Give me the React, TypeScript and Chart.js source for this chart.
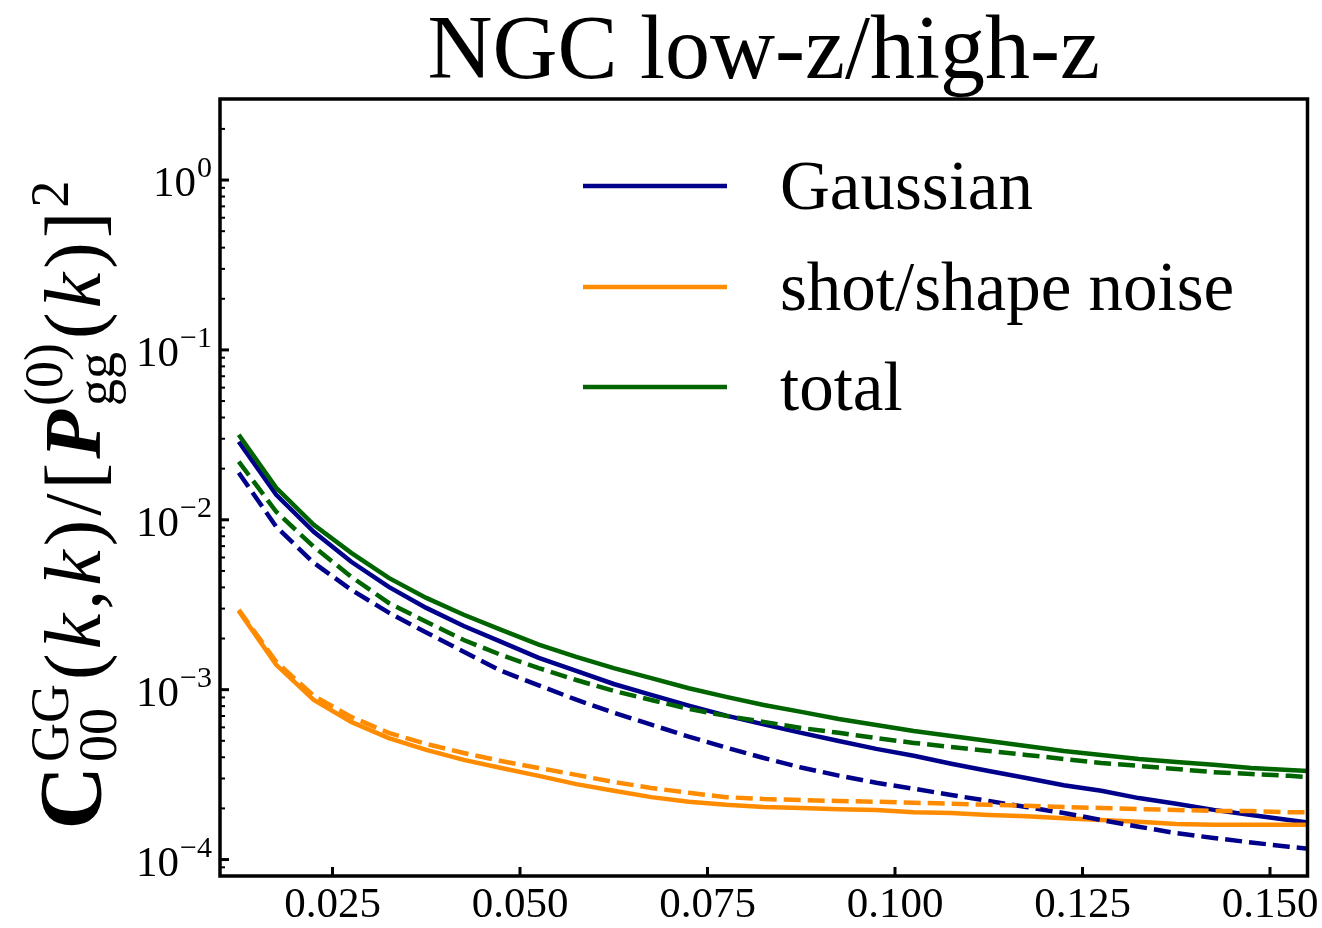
import React, { useEffect, useRef } from "react";
import { Chart, registerables } from "chart.js";

Chart.register(...registerables);

// k values (h/Mpc)
const K = [
  0.0125, 0.0175, 0.0225, 0.0275, 0.0325, 0.0375, 0.0425, 0.0475, 0.0525, 0.0575,
  0.0625, 0.0675, 0.0725, 0.0775, 0.0825, 0.0875, 0.0925, 0.0975, 0.1025, 0.1075,
  0.1125, 0.1175, 0.1225, 0.1275, 0.1325, 0.1375, 0.1425, 0.1475, 0.1525, 0.1575,
];

const gaussianSolid = [
  0.0288, 0.01403, 0.0085, 0.00566, 0.00403, 0.00303, 0.00237, 0.00191, 0.00154, 0.00129,
  0.00108, 0.000931, 0.000805, 0.000703, 0.000625, 0.000557, 0.000499, 0.000448, 0.000408, 0.000366,
  0.000332, 0.000302, 0.000274, 0.000254, 0.00023, 0.000213, 0.000196, 0.000183, 0.000171, 0.00016,
];
const noiseSolid = [
  0.00291, 0.0014, 0.00087, 0.000646, 0.000519, 0.000442, 0.000386, 0.000346, 0.000311, 0.000278,
  0.000254, 0.000233, 0.000219, 0.00021, 0.000204, 0.000201, 0.000198, 0.000196, 0.00019, 0.000188,
  0.000183, 0.00018, 0.000175, 0.000171, 0.000167, 0.000162, 0.00016, 0.00016, 0.00016, 0.00016,
];
const totalSolid = [
  0.0317, 0.01544, 0.00935, 0.00639, 0.00455, 0.00347, 0.00276, 0.00225, 0.00184, 0.00156,
  0.00134, 0.00117, 0.00102, 0.000907, 0.000813, 0.00074, 0.000672, 0.00062, 0.000571, 0.000534,
  0.000499, 0.000466, 0.000436, 0.000413, 0.000391, 0.000375, 0.000361, 0.000346, 0.000337, 0.000327,
];
const gaussianDashed = [
  0.0189, 0.0091, 0.00558, 0.00387, 0.00284, 0.00217, 0.00167, 0.00129, 0.00106, 0.000873,
  0.000732, 0.000622, 0.000529, 0.000456, 0.000396, 0.000348, 0.000312, 0.000283, 0.000261, 0.00024,
  0.000221, 0.000204, 0.000188, 0.000171, 0.000156, 0.000143, 0.000134, 0.000126, 0.000119, 0.000113,
];
const noiseDashed = [
  0.00295, 0.00146, 0.000919, 0.000691, 0.000557, 0.000479, 0.000424, 0.00038, 0.000346, 0.000315,
  0.000286, 0.000264, 0.000247, 0.000233, 0.000227, 0.000224, 0.000221, 0.000219, 0.000216, 0.000213,
  0.00021, 0.000207, 0.000204, 0.000201, 0.000198, 0.000196, 0.000193, 0.000193, 0.00019, 0.00019,
];
const totalDashed = [
  0.022, 0.01115, 0.00694, 0.00462, 0.00324, 0.00251, 0.00196, 0.0016, 0.00134, 0.00114,
  0.000983, 0.00087, 0.00077, 0.000701, 0.000646, 0.000595, 0.000557, 0.000519, 0.000486, 0.00046,
  0.000436, 0.000413, 0.000391, 0.00037, 0.000356, 0.000341, 0.000327, 0.000319, 0.000311, 0.000302,
];

const X_TICKS = [0.025, 0.05, 0.075, 0.1, 0.125, 0.15];
const X_TICK_LABELS = ["0.025", "0.050", "0.075", "0.100", "0.125", "0.150"];
const Y_MAJOR = [1e-4, 1e-3, 1e-2, 1e-1, 1];
const Y_EXPONENTS = ["\u22124", "\u22123", "\u22122", "\u22121", "0"];
const TITLE = "NGC low-z/high-z";
const LEGEND_LABELS = ["Gaussian", "shot/shape noise", "total"];

const BLUE = "#00008B";
const ORANGE = "#FF8C00";
const GREEN = "#006400";
const LEGEND_COLORS = [BLUE, ORANGE, GREEN];

const SERIF = '"Liberation Serif", "DejaVu Serif", serif';

const toPoints = (ys: number[]) => ys.map((y, i) => ({ x: K[i], y }));

export default function App() {
  const ref = useRef<HTMLCanvasElement>(null);

  useEffect(() => {
    document.body.style.margin = "0";
    const canvas = ref.current!;

    const decor = {
      id: "mplDecor",
      afterDraw(chart: any) {
        const ctx: CanvasRenderingContext2D = chart.ctx;
        const a = chart.chartArea;
        const xs = chart.scales.x;
        const ys = chart.scales.y;
        ctx.save();
        ctx.fillStyle = "#000";
        ctx.strokeStyle = "#000";
        ctx.setLineDash([]);

        // x ticks (inward)
        ctx.lineWidth = 3;
        X_TICKS.forEach((v, i) => {
          const px = xs.getPixelForValue(v);
          ctx.beginPath();
          ctx.moveTo(px, a.bottom);
          ctx.lineTo(px, a.bottom - 9);
          ctx.stroke();
          ctx.font = `43px ${SERIF}`;
          ctx.textAlign = "center";
          ctx.textBaseline = "alphabetic";
          ctx.fillText(X_TICK_LABELS[i], px, 917);
        });

        // y major ticks + labels
        Y_MAJOR.forEach((v, i) => {
          const py = ys.getPixelForValue(v);
          ctx.lineWidth = 3;
          ctx.beginPath();
          ctx.moveTo(a.left, py);
          ctx.lineTo(a.left + 9, py);
          ctx.stroke();
          const right = a.left - 8;
          ctx.textBaseline = "alphabetic";
          ctx.textAlign = "left";
          ctx.font = `30px ${SERIF}`;
          const ew = ctx.measureText(Y_EXPONENTS[i]).width;
          ctx.font = `43px ${SERIF}`;
          const bw = ctx.measureText("10").width;
          const x0 = right - ew - bw - 1;
          ctx.fillText("10", x0, py + 16);
          ctx.font = `30px ${SERIF}`;
          ctx.fillText(Y_EXPONENTS[i], x0 + bw + 1, py - 3);
        });

        // y minor ticks
        ctx.lineWidth = 2;
        for (let e = -5; e <= 0; e++) {
          for (let m = 2; m <= 9; m++) {
            const v = m * Math.pow(10, e);
            if (v <= ys.min || v >= ys.max) continue;
            const py = ys.getPixelForValue(v);
            ctx.beginPath();
            ctx.moveTo(a.left, py);
            ctx.lineTo(a.left + 5, py);
            ctx.stroke();
          }
        }

        // frame
        ctx.lineWidth = 3.5;
        ctx.strokeRect(a.left, a.top, a.right - a.left, a.bottom - a.top);

        // title
        ctx.font = `90px ${SERIF}`;
        ctx.textAlign = "center";
        ctx.textBaseline = "alphabetic";
        ctx.fillText(TITLE, (a.left + a.right) / 2, 78);

        // legend
        const legY = [186, 287, 387];
        LEGEND_LABELS.forEach((lab, i) => {
          ctx.strokeStyle = LEGEND_COLORS[i];
          ctx.lineWidth = 4.5;
          ctx.beginPath();
          ctx.moveTo(583, legY[i]);
          ctx.lineTo(727, legY[i]);
          ctx.stroke();
          ctx.fillStyle = "#000";
          ctx.font = `69px ${SERIF}`;
          ctx.textAlign = "left";
          ctx.fillText(lab, 780, legY[i] + 23);
        });

        // y label (rotated, mathtext-like)
        const M = 80;
        const S = 54;
        type Item = { t: string; f: string; dy: number };
        type Piece = Item | { stack: Item[] };
        const fM = `${M}px ${SERIF}`;
        const fMi = `italic ${M}px ${SERIF}`;
        const fS = `${S}px ${SERIF}`;
        const up = -0.4 * M;
        const down = 0.2 * M;
        const pieces: Piece[] = [
          { t: "C", f: `bold ${M + 8}px ${SERIF}`, dy: 0 },
          { stack: [ { t: "GG", f: fS, dy: up }, { t: "00", f: fS, dy: down } ] },
          { t: "(", f: fM, dy: 0 },
          { t: "k", f: fMi, dy: 0 },
          { t: ",", f: fM, dy: 0 },
          { t: "k", f: fMi, dy: 0 },
          { t: ")", f: fM, dy: 0 },
          { t: "/", f: fM, dy: 0 },
          { t: "[", f: fM, dy: 0 },
          { t: "P", f: `italic bold ${M}px ${SERIF}`, dy: 0 },
          { stack: [ { t: "(0)", f: fS, dy: up - 6 }, { t: "gg", f: fS, dy: down - 2 } ] },
          { t: "(", f: fM, dy: 0 },
          { t: "k", f: fMi, dy: 0 },
          { t: ")", f: fM, dy: 0 },
          { t: "]", f: fM, dy: 0 },
          { t: "2", f: fS, dy: up },
        ];
        const widthOf = (p: Piece) => {
          if ("stack" in p) {
            return Math.max(...p.stack.map((s) => { ctx.font = s.f; return ctx.measureText(s.t).width; }));
          }
          ctx.font = p.f;
          return ctx.measureText(p.t).width;
        };
        const natural = pieces.reduce((acc, p) => acc + widthOf(p), 0);
        const targetLen = 680;
        const gap = Math.min(4, Math.max(0, (targetLen - natural) / (pieces.length - 1)));
        const total = natural + gap * (pieces.length - 1);
        const cy = 505;
        const cx = 100;
        ctx.translate(cx, cy);
        ctx.rotate(-Math.PI / 2);
        ctx.textAlign = "left";
        ctx.textBaseline = "alphabetic";
        ctx.fillStyle = "#000";
        let u = -total / 2;
        pieces.forEach((p) => {
          const w = widthOf(p);
          if ("stack" in p) {
            p.stack.forEach((s) => { ctx.font = s.f; ctx.fillText(s.t, u, s.dy); });
          } else {
            ctx.font = p.f;
            ctx.fillText(p.t, u, p.dy);
          }
          u += w + gap;
        });
        ctx.restore();
      },
    };

    const ds = (label: string, data: number[], color: string, dashed: boolean, order: number) => ({
      label,
      data: toPoints(data),
      borderColor: color,
      backgroundColor: color,
      borderWidth: 4.5,
      borderDash: dashed ? [17, 7] : [],
      pointRadius: 0,
      tension: 0,
      fill: false,
      clip: 0,
      order,
    });

    const chart = new Chart(canvas, {
      type: "line",
      data: {
        datasets: [
          ds("Gaussian", gaussianSolid, BLUE, false, 5),
          ds("shot/shape noise", noiseSolid, ORANGE, false, 4),
          ds("total", totalSolid, GREEN, false, 3),
          ds("Gaussian (dashed)", gaussianDashed, BLUE, true, 2),
          ds("shot/shape noise (dashed)", noiseDashed, ORANGE, true, 1),
          ds("total (dashed)", totalDashed, GREEN, true, 0),
        ],
      },
      options: {
        animation: false,
        responsive: false,
        devicePixelRatio: 1,
        layout: { padding: { left: 220, top: 99, right: 14.5, bottom: 52 } },
        plugins: { legend: { display: false }, title: { display: false }, tooltip: { enabled: false } },
        events: [],
        scales: {
          x: { type: "linear", min: 0.01, max: 0.155, display: false, bounds: "data" },
          y: { type: "logarithmic", min: 8e-5, max: 3, display: false, bounds: "data" },
        },
      },
      plugins: [decor],
    });

    return () => chart.destroy();
  }, []);

  return (
    <div style={{ width: 1322, height: 928, background: "#fff", overflow: "hidden" }}>
      <canvas ref={ref} width={1322} height={928} style={{ display: "block" }} />
    </div>
  );
}
